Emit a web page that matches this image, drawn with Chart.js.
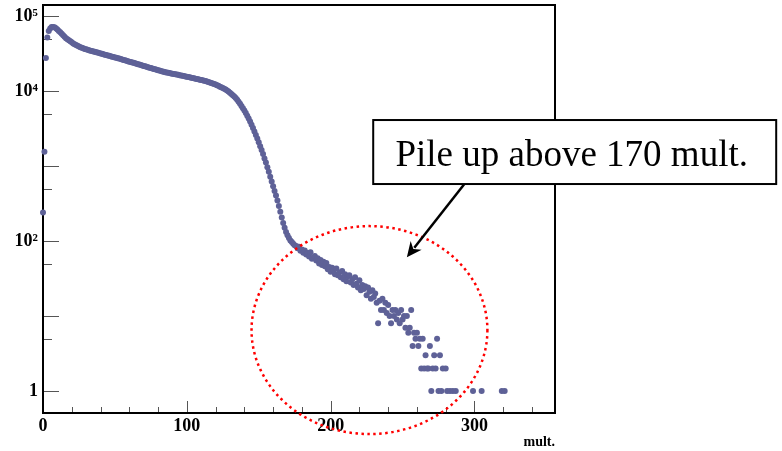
<!DOCTYPE html>
<html>
<head>
<meta charset="utf-8">
<script src="https://cdn.jsdelivr.net/npm/chart.js@4.4.1/dist/chart.umd.min.js"></script>
<style>
    html, body { margin: 0; padding: 0; background: #fff; }
    #wrap { width: 782px; height: 451px; position: relative; }
</style>
</head>
<body>
<div id="wrap"><canvas id="graph"></canvas></div>
<script>
// entries per multiplicity bin, bin number = array index (0 .. 278)
const counts = [
    240, 1550, 27500, 51500, 63000, 68000, 71000, 71500, 70500, 68500,
    66000, 63000, 60500, 58000, 55500, 53000, 50500, 49000, 47500, 46000,
    44500, 43000, 42000, 41000, 40000, 39200, 38400, 37600, 37000, 36400,
    35900, 35400, 34900, 34500, 34100, 33700, 33300, 32900, 32500, 32100,
    31700, 31300, 30900, 30500, 30100, 29800, 29400, 29000, 28700, 28400,
    28000, 27700, 27300, 27000, 26600, 26300, 25900, 25600, 25200, 24900,
    24600, 24300, 24000, 23700, 23400, 23100, 22800, 22500, 22200, 21900,
    21600, 21300, 21000, 20700, 20450, 20200, 19950, 19700, 19450, 19200,
    18950, 18700, 18450, 18200, 18000, 17800, 17600, 17450, 17300, 17150,
    17000, 16850, 16700, 16550, 16400, 16250, 16100, 15950, 15800, 15650,
    15500, 15350, 15200, 15050, 14900, 14750, 14600, 14450, 14300, 14150,
    14000, 13850, 13700, 13550, 13400, 13200, 13000, 12800, 12600, 12400,
    12200, 11950, 11700, 11400, 11190, 10960, 10720, 10450, 10140, 9820,
    9480, 9140, 8790, 8430, 8040, 7620, 7190, 6760, 6320, 5900,
    5500, 5080, 4680, 4290, 3910, 3550, 3210, 2890, 2590, 2320,
    2070, 1840, 1630, 1440, 1260, 1110, 966, 836, 721, 622,
    537, 465, 403, 347, 292, 245, 206, 174, 150, 132,
    119, 110, 102, 97, 92, 88, 86, 80, 84, 74,
    77, 70, 75, 66, 69, 62, 71, 58, 60, 63,
    55, 59, 50, 56, 48, 53, 46, 51, 42, 45,
    39, 44, 41, 36, 43, 35, 38, 33, 40, 31,
    36, 29, 34, 35, 28, 31, 26, 33, 27, 24,
    30, 22, 26, 23, 25, 19, 24, 21, 17, 22,
    18, 20, 15, 8, 16, 12, 17, 12, 15, 11,
    14, 10, 8, 12, 10, 12, 9, 11, 8, 12,
    9, 10, 7, 10, 6, 7, 12, 4, 6, 5,
    6, 4, 5, 2, 5, 2, 3, 2, 2, 4,
    1, 2, 3, 2, 5, 1, 3, 1, 2
];
// sparse tail
const tailMult = [280, 281, 283, 285, 287, 299, 305, 319, 321];
const tailCounts = [2, 1, 1, 1, 1, 1, 1, 1, 1];

const xLabelTicks = [0, 100, 200, 300];
const xMinorTicks = [20, 40, 60, 80, 120, 140, 160, 180, 220, 240, 260, 280, 320, 340];
const yLabelTicks = [1, 100, 10000, 100000];
const yTickLabels = ["1", "10²", "10⁴", "10⁵"];
const yMajorTicks = [1, 10, 100, 1000, 10000, 100000];
const yMinorTicks = [5, 50, 500, 5000, 50000];
const noteText = "Pile up above 170 mult.";
const axisTitle = "mult.";

const ctx = document.getElementById("graph");
const SERIF = "'Liberation Serif', 'Times New Roman', serif";

const points = [];
counts.forEach((c, i) => {
    if (c > 0) points.push({ x: i, y: c });
});
tailMult.forEach((m, i) => points.push({ x: m, y: tailCounts[i] }));

// annotation placed in data units
const ring = { x: 227, y: 6.5, halfWidth: 82, yTop: 158, yBottom: 0.267 };
const note = { x0: 229.6, x1: 509.8, yTop: 4100, yBottom: 575 };
const arrow = { x0: 293, y0: 575, x1: 253, y1: 61 };

const frame = {
    id: "frame",
    beforeDatasetsDraw(chart) {
        const { ctx, chartArea: a, scales: { x, y } } = chart;
        ctx.save();
        ctx.strokeStyle = "#555";
        ctx.lineWidth = 1;
        yMajorTicks.forEach(v => {
            const py = Math.round(y.getPixelForValue(v)) + 0.5;
            ctx.beginPath(); ctx.moveTo(a.left, py); ctx.lineTo(a.left + 16, py); ctx.stroke();
        });
        yMinorTicks.forEach(v => {
            const py = Math.round(y.getPixelForValue(v)) + 0.5;
            ctx.beginPath(); ctx.moveTo(a.left, py); ctx.lineTo(a.left + 9, py); ctx.stroke();
        });
        xLabelTicks.forEach(v => {
            const px = Math.round(x.getPixelForValue(v)) + 0.5;
            ctx.beginPath(); ctx.moveTo(px, a.bottom); ctx.lineTo(px, a.bottom - 12); ctx.stroke();
        });
        xMinorTicks.forEach(v => {
            const px = Math.round(x.getPixelForValue(v)) + 0.5;
            ctx.beginPath(); ctx.moveTo(px, a.bottom); ctx.lineTo(px, a.bottom - 6); ctx.stroke();
        });
        ctx.strokeStyle = "#000";
        ctx.lineWidth = 2;
        ctx.strokeRect(a.left, a.top, a.right - a.left, a.bottom - a.top);
        ctx.restore();
    },
    afterDatasetsDraw(chart) {
        const { ctx, scales: { x, y } } = chart;
        ctx.save();

        // dotted ring
        const cx = x.getPixelForValue(ring.x);
        const top = y.getPixelForValue(ring.yTop);
        const bot = y.getPixelForValue(ring.yBottom);
        const rx = x.getPixelForValue(ring.x + ring.halfWidth) - cx;
        ctx.strokeStyle = "#ff0000";
        ctx.lineWidth = 2.5;
        ctx.setLineDash([2.5, 3.5]);
        ctx.beginPath();
        ctx.ellipse(cx, (top + bot) / 2, rx, (bot - top) / 2, 0, 0, Math.PI * 2);
        ctx.stroke();
        ctx.setLineDash([]);

        // arrow
        const ax0 = x.getPixelForValue(arrow.x0), ay0 = y.getPixelForValue(arrow.y0);
        const ax1 = x.getPixelForValue(arrow.x1), ay1 = y.getPixelForValue(arrow.y1);
        const ang = Math.atan2(ay1 - ay0, ax1 - ax0);
        const headLen = 15, headW = 7;
        ctx.strokeStyle = "#000";
        ctx.fillStyle = "#000";
        ctx.lineWidth = 2.5;
        ctx.beginPath();
        ctx.moveTo(ax0, ay0);
        ctx.lineTo(ax1 - Math.cos(ang) * headLen * 0.8, ay1 - Math.sin(ang) * headLen * 0.8);
        ctx.stroke();
        ctx.beginPath();
        ctx.moveTo(ax1, ay1);
        ctx.lineTo(ax1 - Math.cos(ang) * headLen - Math.sin(ang) * headW, ay1 - Math.sin(ang) * headLen + Math.cos(ang) * headW);
        ctx.lineTo(ax1 - Math.cos(ang) * headLen * 0.7, ay1 - Math.sin(ang) * headLen * 0.7);
        ctx.lineTo(ax1 - Math.cos(ang) * headLen + Math.sin(ang) * headW, ay1 - Math.sin(ang) * headLen - Math.cos(ang) * headW);
        ctx.closePath();
        ctx.fill();

        // text box
        const bx0 = x.getPixelForValue(note.x0), bx1 = x.getPixelForValue(note.x1);
        const by0 = y.getPixelForValue(note.yTop), by1 = y.getPixelForValue(note.yBottom);
        ctx.fillStyle = "#fff";
        ctx.fillRect(bx0, by0, bx1 - bx0, by1 - by0);
        ctx.lineWidth = 2;
        ctx.strokeRect(bx0, by0, bx1 - bx0, by1 - by0);
        ctx.fillStyle = "#000";
        ctx.font = "37px " + SERIF;
        ctx.textAlign = "center";
        ctx.textBaseline = "alphabetic";
        ctx.fillText(noteText, (bx0 + bx1) / 2 - 3, by1 - 18);
        ctx.restore();
    }
};

new Chart(ctx, {
    type: "scatter",
    data: {
        datasets: [
            {
                label: "mult",
                data: points,
                backgroundColor: "#5e6197",
                borderWidth: 0,
                pointRadius: 3,
                pointHoverRadius: 3,
                clip: false,
            },
        ],
    },
    options: {
        responsive: true,
        maintainAspectRatio: false,
        animation: false,
        events: [],
        layout: {
            padding: { top: 5, right: 227, bottom: 0, left: 0 },
        },
        plugins: {
            legend: { display: false },
            tooltip: { enabled: false },
        },
        scales: {
            x: {
                type: "linear",
                min: 0,
                max: 356,
                grid: { display: false, drawTicks: false },
                border: { display: false },
                afterBuildTicks: (scale) => {
                    scale.ticks = xLabelTicks.map(v => ({ value: v }));
                },
                afterFit: (scale) => {
                    scale.height = 38;
                    scale.paddingLeft = 0;
                    scale.paddingRight = 0;
                },
                ticks: {
                    padding: 3,
                    maxRotation: 0,
                    color: "#000",
                    font: { family: SERIF, size: 18, weight: "bold" },
                    callback: (v) => String(v),
                },
                title: {
                    display: true,
                    text: axisTitle,
                    align: "end",
                    color: "#000",
                    padding: { top: 0, bottom: 0 },
                    font: { family: SERIF, size: 14, weight: "bold" },
                },
            },
            y: {
                type: "logarithmic",
                min: 0.51,
                max: 140000,
                grid: { display: false, drawTicks: false },
                border: { display: false },
                afterBuildTicks: (scale) => {
                    scale.ticks = yLabelTicks.map(v => ({ value: v }));
                },
                afterFit: (scale) => {
                    scale.width = 43;
                    scale.paddingTop = 0;
                    scale.paddingBottom = 0;
                },
                ticks: {
                    padding: 5,
                    color: "#000",
                    font: { family: SERIF, size: 18, weight: "bold" },
                    callback: (v) => {
                        const i = yLabelTicks.indexOf(v);
                        return i >= 0 ? yTickLabels[i] : "";
                    },
                },
            },
        },
    },
    plugins: [frame],
});
</script>
</body>
</html>
